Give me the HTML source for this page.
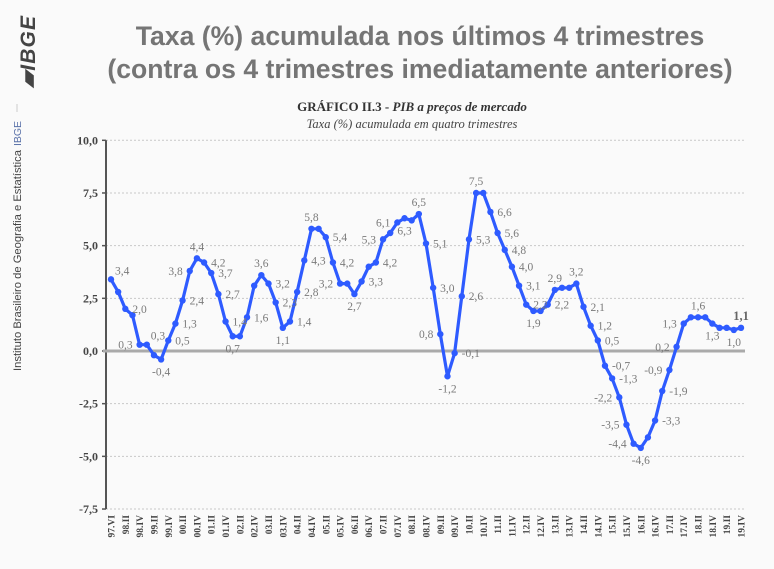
<!DOCTYPE html>
<html><head><meta charset="utf-8"><style>
html,body{margin:0;padding:0;background:#fafafa;}
svg{display:block;}
.t{font-family:"Liberation Sans",sans-serif;font-weight:bold;fill:#757575;font-size:26.6px;}
.s{font-family:"Liberation Serif",serif;}
</style></head><body>
<svg id="chart" width="774" height="569" viewBox="0 0 774 569" xmlns="http://www.w3.org/2000/svg">
<rect width="774" height="569" fill="#fafafa"/>
<g>
<text transform="translate(35,88) rotate(-90)" font-family="Liberation Sans,sans-serif" font-weight="bold" font-style="italic" font-size="21" fill="#444" textLength="72">▰IBGE</text>
<line x1="17" y1="104" x2="17" y2="112" stroke="#ccc" stroke-width="1"/>
<text transform="translate(21,146) rotate(-90)" font-family="Liberation Sans,sans-serif" font-size="10.5" fill="#5870a8" textLength="25">IBGE</text>
<text transform="translate(21,371) rotate(-90)" font-family="Liberation Sans,sans-serif" font-size="11" fill="#444" textLength="221" lengthAdjust="spacingAndGlyphs">Instituto Brasileiro de Geografia e Estatística</text>
</g>
<text class="t" x="420" y="45" text-anchor="middle">Taxa (%) acumulada nos últimos 4 trimestres</text>
<text class="t" x="420" y="78" text-anchor="middle">(contra os 4 trimestres imediatamente anteriores)</text>
<text class="s" x="412" y="111" text-anchor="middle" font-size="13" font-weight="bold" fill="#333">GRÁFICO II.3 - <tspan font-style="italic">PIB a preços de mercado</tspan></text>
<text class="s" x="412" y="128" text-anchor="middle" font-size="12.5" font-style="italic" fill="#444">Taxa (%) acumulada em quatro trimestres</text>
<g id="grid"></g><g id="axes"></g><g id="series"></g><g id="labels"></g>
</svg>
<script>
const values=[3.4,2.8,2.0,1.7,0.3,0.3,-0.2,-0.4,0.5,1.3,2.4,3.8,4.4,4.2,3.7,2.7,1.4,0.7,0.7,1.6,3.1,3.6,3.2,2.3,1.1,1.4,2.8,4.3,5.8,5.8,5.4,4.2,3.2,3.2,2.7,3.3,4.0,4.2,5.3,5.6,6.1,6.3,6.2,6.5,5.1,3.0,0.8,-1.2,-0.1,2.6,5.3,7.5,7.5,6.6,5.6,4.8,4.0,3.1,2.2,1.9,1.9,2.2,2.9,3.0,3.0,3.2,2.1,1.2,0.5,-0.7,-1.3,-2.2,-3.5,-4.4,-4.6,-4.1,-3.3,-1.9,-0.9,0.2,1.3,1.6,1.6,1.6,1.3,1.1,1.1,1.0,1.1];
const tickLabels=["97.VI","98.II","98.IV","99.II","99.IV","00.II","00.IV","01.II","01.IV","02.II","02.IV","03.II","03.IV","04.II","04.IV","05.II","05.IV","06.II","06.IV","07.II","07.IV","08.II","08.IV","09.II","09.IV","10.II","10.IV","11.II","11.IV","12.II","12.IV","13.II","13.IV","14.II","14.IV","15.II","15.IV","16.II","16.IV","17.II","17.IV","18.II","18.IV","19.II","19.IV"];
const yTicks=[10,7.5,5,2.5,0,-2.5,-5,-7.5];
const labelIdx=[0,2,4,5,7,8,9,10,11,12,13,14,15,16,17,19,21,22,23,24,25,26,27,28,30,31,32,34,35,37,38,40,41,43,44,45,46,47,48,49,50,51,53,54,55,56,57,58,59,61,62,65,66,67,68,69,70,71,72,73,74,76,77,78,79,80,82,84,87,88];
const labelSide=["ar","r","l","ar","b","r","r","r","l","a","r","r","r","r","b","r","a","r","r","b","r","r","r","a","r","r","l","b","r","r","l","l","b","a","r","r","l","b","r","r","r","a","r","r","r","r","r","r","b","r","a","a","r","r","r","r","r","l","l","l","b","r","r","l","l","l","a","b","b","a"];
const NS="http://www.w3.org/2000/svg";
const X0=111,X1=741,Y0=351,PX=21.07;
const xs=i=>X0+(X1-X0)*i/(values.length-1);
const ys=v=>Y0-v*PX;
const fmt=v=>v.toFixed(1).replace('.',',');
function mk(tag,attrs,parent){const e=document.createElementNS(NS,tag);for(const k in attrs)e.setAttribute(k,attrs[k]);document.getElementById(parent).appendChild(e);return e;}
yTicks.forEach(t=>{
  if(t!==0&&t!==-7.5){const g=mk('line',{x1:106,x2:745,y1:ys(t),y2:ys(t),stroke:'#c8c8c8','stroke-width':1,'stroke-dasharray':'2,2'},'grid');
  
  }
  const tk=mk('line',{x1:102,x2:106,y1:ys(t),y2:ys(t),stroke:'#555','stroke-width':1.5},'axes');
  
  
  const lb=mk('text',{x:98,y:ys(t)+4,'text-anchor':'end','font-family':'Liberation Serif,serif','font-size':12,'font-weight':'bold',fill:'#444'},'axes');
  lb.textContent=fmt(t);
  
  
});
const bl=mk('line',{x1:106,x2:745,y1:ys(-7.5),y2:ys(-7.5),stroke:'#c8c8c8','stroke-width':1,'stroke-dasharray':'2,2'},'grid');


const ya=mk('line',{x1:106,x2:106,y1:ys(10),y2:ys(-7.5),stroke:'#555','stroke-width':2},'axes');


const zl=mk('line',{x1:103,x2:745,y1:Y0,y2:Y0,stroke:'#aaa','stroke-width':3},'axes');


tickLabels.forEach((t,k)=>{
  const x=xs(k*2);
  const lb=mk('text',{transform:`translate(${x+3.5},${515}) rotate(-90)`,'text-anchor':'end','font-family':'Liberation Serif,serif','font-size':9.5,'font-weight':'bold',fill:'#444'},'axes');
  lb.textContent=t;
  
  
});
const pts=values.map((v,i)=>xs(i).toFixed(1)+','+ys(v).toFixed(1)).join(' ');
const line=mk('polyline',{points:pts,fill:'none',stroke:'#2e5bff','stroke-width':3.2,'stroke-linejoin':'round'},'series');


values.forEach((v,i)=>{
  const c=mk('circle',{cx:xs(i),cy:ys(v),r:3.2,fill:'#2e5bff'},'series');
  
  
});
labelIdx.forEach((i,k)=>{
  const s=labelSide[k];let x=xs(i),y=ys(values[i]),a='middle';
  if(s==='r'){x+=7;y+=4;a='start';}
  else if(s==='l'){x-=7;y+=4;a='end';}
  else if(s==='a'){y-=8;}
  else if(s==='b'){y+=16;}
  else if(s==='ar'){x+=4;y-=5;a='start';}
  const last=i===values.length-1;
  const t=mk('text',{x:x,y:y,'text-anchor':a,'font-family':'Liberation Serif,serif','font-size':last?12.5:11.5,'font-weight':last?'bold':'normal',fill:last?'#666':'#7a7a7a'},'labels');
  t.textContent=fmt(values[i]);
  
  
});
</script>
</body></html>
